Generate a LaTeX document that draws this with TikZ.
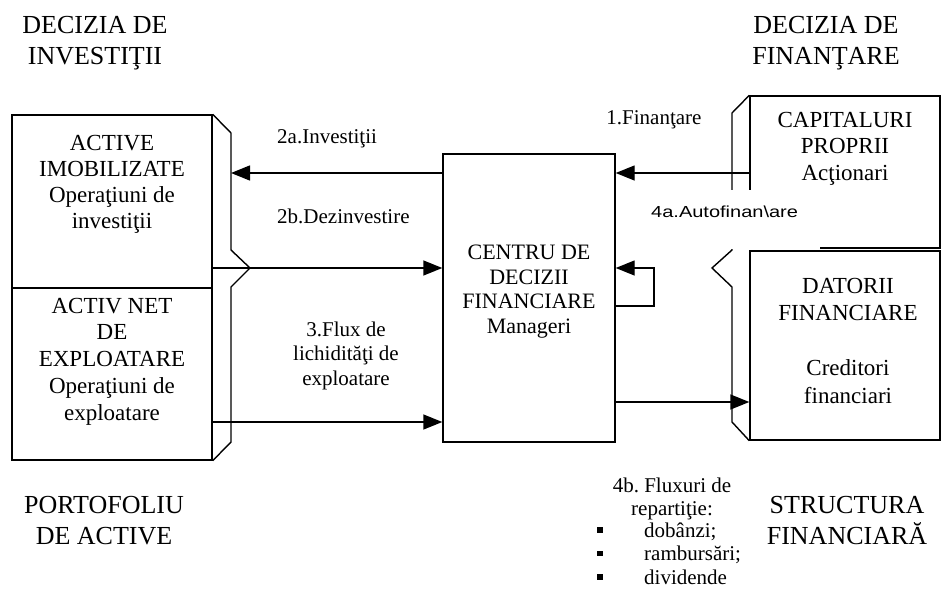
\documentclass[tikz,border=0pt]{standalone}
\usepackage{fontspec}
\setmainfont{Liberation Serif}
\newfontfamily\sansf{Liberation Sans}
\usetikzlibrary{arrows.meta}
\frenchspacing
\begin{document}
\begin{tikzpicture}[x=1pt,y=-1pt,
  boxshape/.style={draw, line width=1.4pt, inner sep=0pt},
  bigtxt/.style={font=\fontsize{26}{31}\selectfont, align=center, anchor=base, inner sep=0pt},
  boxtxt/.style={font=\fontsize{23}{26.5}\selectfont, align=center, anchor=base, inner sep=0pt},
  lbl/.style={font=\fontsize{21}{24}\selectfont, inner sep=0pt},
  lblsans/.style={font=\sansf\fontsize{16}{19}\selectfont, inner sep=0pt},
  flow/.style={line width=1.4pt, -{Triangle[length=19pt,width=15pt]}},
  bracket/.style={line width=1.4pt, line join=miter},
  bul/.style={fill=black, inner sep=0pt, minimum size=5.5pt}
]
\useasboundingbox (0,0) rectangle (941,589);

% boxes
\node[boxshape, minimum width=200pt, minimum height=173pt] (ai) at (112,201.5) {};
\node[boxshape, minimum width=200pt, minimum height=172pt] (an) at (112,374) {};
\node[boxshape, minimum width=172pt, minimum height=288pt] (cdf) at (529,298) {};
\node[boxshape, minimum width=190pt, minimum height=152pt] (cp) at (845,172) {};
\node[boxshape, minimum width=190pt, minimum height=189pt] (df) at (845,345.5) {};

% brackets
\coordinate (lin) at (231,173);
\coordinate (ltip) at (250,268);
\draw[bracket] (ai.north east) -- (231,133) -- (lin) -- (231,250) -- (ltip) -- (231,287) -- (231,442) -- (an.south east);
\coordinate (rtip) at (712,268);
\draw[bracket] (cp.north west) -- (732,113) -- (732,250) -- (rtip) -- (732,287) -- (732,422) -- (df.south west);

% connectors
\coordinate (loop) at (654,268);
\draw[flow] (cdf.west |- lin) -- (lin);
\draw[flow] (ai.east |- ltip) -- (cdf.west |- ltip);
\draw[flow] (an.east |- 0,422) -- (cdf.west |- 0,422);
\draw[flow] (cp.west |- lin) -- (cdf.east |- lin);
\draw[flow] (cdf.east |- 0,306) -| (loop) -- (cdf.east |- loop);
\draw[flow] (cdf.east |- 0,402) -- (df.west |- 0,402);

% white patch under 4a label
\fill[white] (640,190) rectangle (820,249);

% corner titles (anchor = baseline of last line)
\node[bigtxt] (t1) at (95,64) {DECIZIA DE\\INVESTIŢII};
\node[bigtxt] (t2) at (826,64) {DECIZIA DE\\FINANŢARE};
\node[bigtxt] (t3) at (104,544) {PORTOFOLIU\\DE ACTIVE};
\node[bigtxt] (t4) at (847,544) {STRUCTURA\\FINANCIARĂ};

% box texts
\node[boxtxt, font=\fontsize{23}{26}\selectfont] (tai) at (112,228) {ACTIVE\\IMOBILIZATE\\Operaţiuni de\\investiţii};
\node[boxtxt, font=\fontsize{23}{26.75}\selectfont] (tan) at (112,420) {ACTIV NET\\DE\\EXPLOATARE\\Operaţiuni de\\exploatare};
\node[boxtxt, font=\fontsize{22}{24.5}\selectfont] (tcdf) at (529,333) {CENTRU DE\\DECIZII\\FINANCIARE\\Manageri};
\node[boxtxt] (tcp) at (845,180) {CAPITALURI\\PROPRII\\Acţionari};
\node[boxtxt, font=\fontsize{23}{27.5}\selectfont] (tdf) at (848,403) {DATORII\\FINANCIARE\\[27.5pt]Creditori\\financiari};

% flow labels
\node[lbl, anchor=base] (l1) at (654,124) {1.Finanţare};
\node[lbl, anchor=base west] (l2a) at (277,143) {2a.Investiţii};
\node[lbl, anchor=base west] (l2b) at (277,223) {2b.Dezinvestire};
\node[lbl, anchor=base, align=center, font=\fontsize{21}{24.5}\selectfont] (l3) at (346,385) {3.Flux de\\lichidităţi de\\exploatare};
\node[lblsans, anchor=base west] (l4a) at (651,217) {\scalebox{1.25}[1]{4a.Autofinan\textbackslash are}};
\node[lbl, anchor=base, align=center, font=\fontsize{21}{23}\selectfont] (l4b) at (672,515) {4b. Fluxuri de\\repartiţie:};
\node[lbl, anchor=base west, align=left, font=\fontsize{21}{23.5}\selectfont] (l4bl) at (644,584) {dobânzi;\\rambursări;\\dividende};
\node[bul] (b1) at (600,530) {};
\node[bul] (b2) at (600,553.5) {};
\node[bul] (b3) at (600,577) {};
\end{tikzpicture}
\end{document}
